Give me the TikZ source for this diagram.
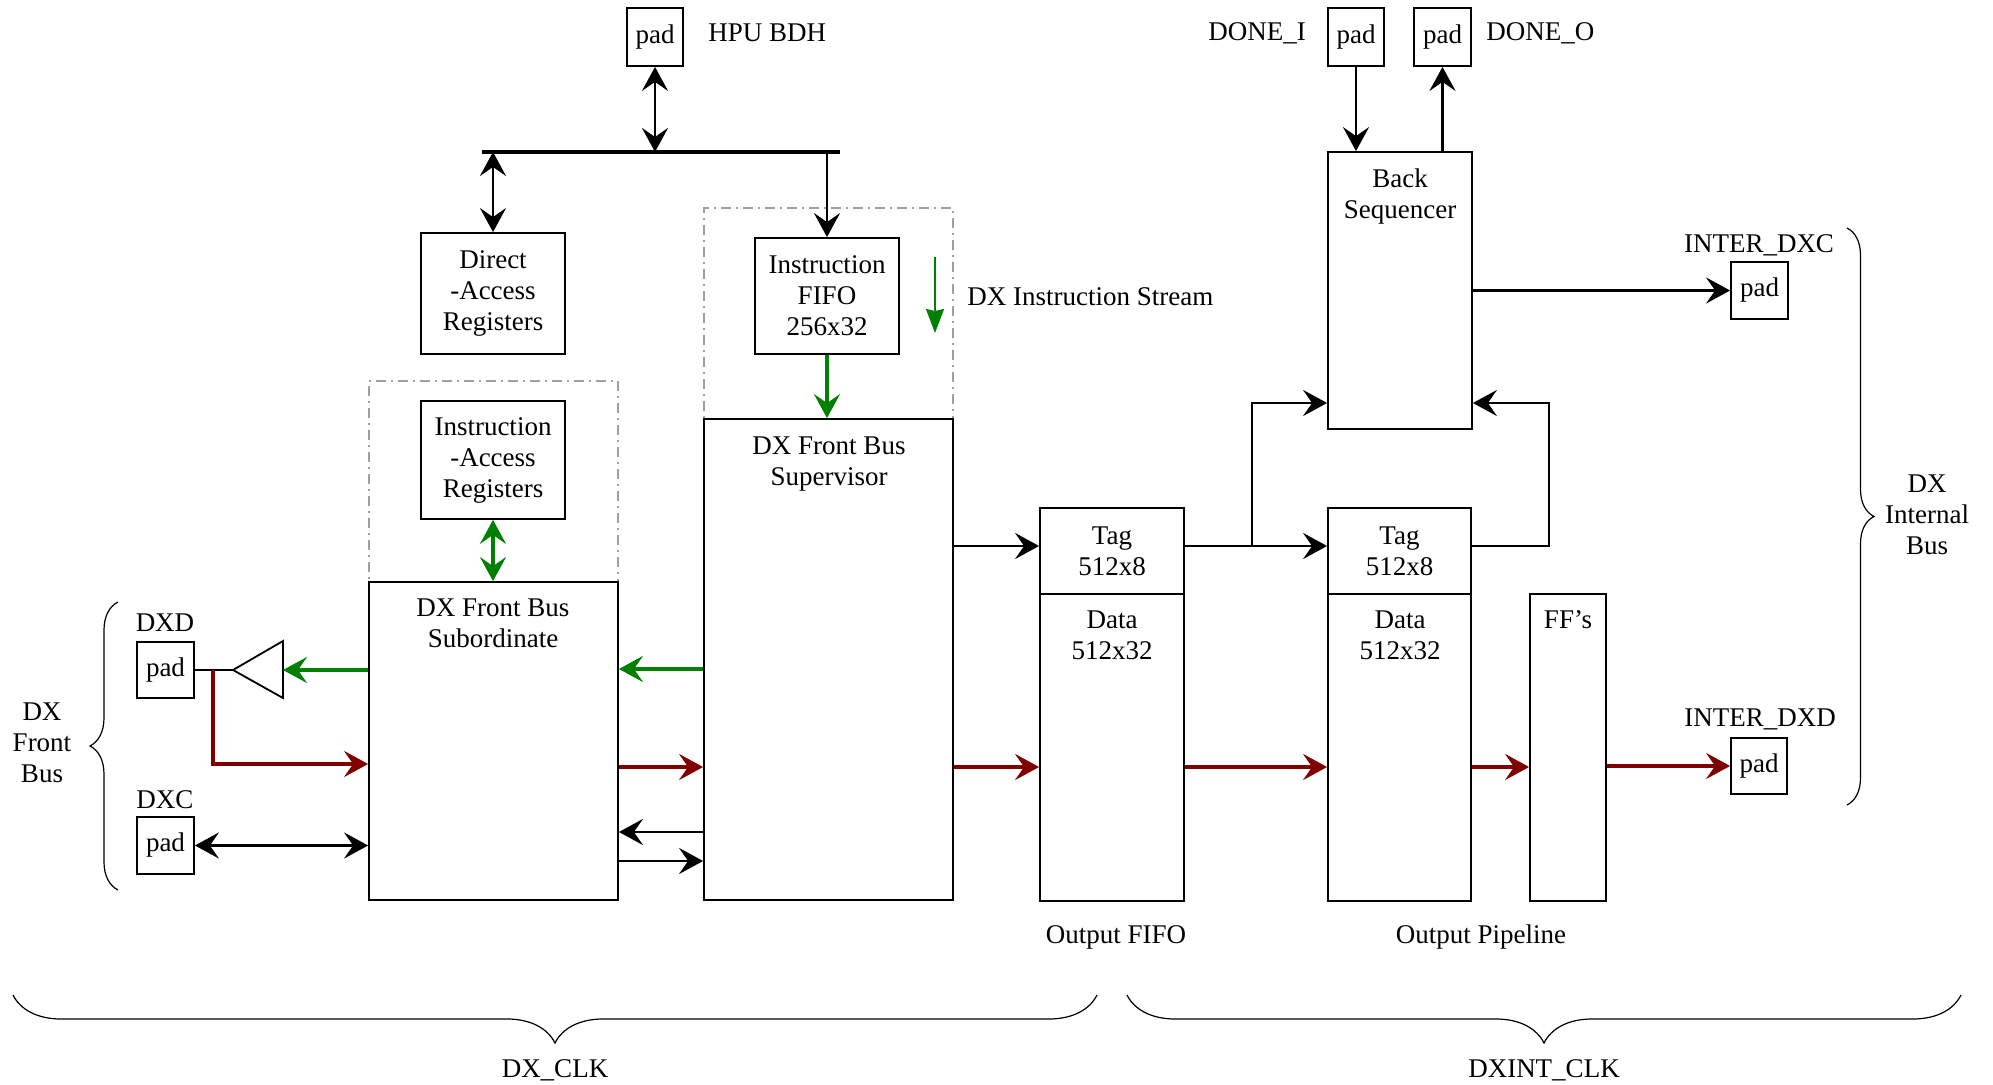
\documentclass[tikz,border=0pt]{standalone}
\usepackage{fontspec}
\setmainfont{Liberation Serif}
\usetikzlibrary{arrows.meta,fit,decorations.pathreplacing,calc}
\definecolor{sigG}{RGB}{0,128,0}
\definecolor{sigR}{RGB}{128,0,0}
\tikzset{
  box/.style={draw, line width=0.9pt, inner sep=0pt},
  dashbox/.style={draw=gray!75, line width=0.55pt, dash pattern=on 5pt off 2.5pt on 1pt off 2.5pt, inner sep=0pt},
  tip/.tip={Stealth[length=12pt,width=13pt,inset=4.5pt]},
  arr/.style={line width=1.35pt, -tip},
  dblarr/.style={line width=1.35pt, tip-tip},
  garr/.style={arr, line width=1.55pt, draw=sigG, -{Stealth[length=12pt,width=13pt,inset=4.5pt,sigG]}},
  gdbl/.style={dblarr, line width=1.55pt, draw=sigG, {Stealth[length=12pt,width=13pt,inset=4.5pt,sigG]}-{Stealth[length=12pt,width=13pt,inset=4.5pt,sigG]}},
  rarr/.style={arr, line width=1.6pt, draw=sigR, -{Stealth[length=12pt,width=13pt,inset=4.5pt,sigR]}},
  brc/.style={line width=0.6pt, decorate},
  txt/.style={align=center, inner sep=0pt},
  ctext/.style={label={[txt]center:{#1}}}
}
\begin{document}
\begin{tikzpicture}[x=0.5pt,y=-0.5pt,font=\fontsize{13.5}{15.5}\selectfont]
\useasboundingbox (0,0) rectangle (1993,1085);

% pads
\node[box, fit={(627,8)(683,66)}, ctext=pad] (hpupad) {};
\node[box, fit={(1328,8)(1384,66)}, ctext=pad] (donei) {};
\node[box, fit={(1414,8)(1471,66)}, ctext=pad] (doneo) {};
\node[box, fit={(1731,262)(1788,319)}, ctext=pad] (idxc) {};
\node[box, fit={(1731,738)(1787,794)}, ctext=pad] (idxd) {};
\node[box, fit={(137,642)(194,698)}, ctext=pad] (dxd) {};
\node[box, fit={(137,817)(194,874)}, ctext=pad] (dxc) {};

% pad labels
\node[txt, anchor=west] (hpulbl) at (708,33) {HPU BDH};
\node[txt] (doneilbl) at (1257,33) {DONE\_I};
\node[txt, anchor=west] (doneolbl) at (1486,33) {DONE\_O};
\node[txt] (idxclbl) at (1759,245) {INTER\_DXC};
\node[txt] (idxdlbl) at (1760,719) {INTER\_DXD};
\node[txt] (dxdlbl) at (165,623) {DXD};
\node[txt] (dxclbl) at (165,800) {DXC};

% dashed groups
\node[dashbox, fit={(369,381)(618,582)}] (dashL) {};
\node[dashbox, fit={(704,208)(953,419)}] (dashR) {};

% blocks
\node[box, fit={(421,233)(565,354)}, ctext={Direct\\-Access\\Registers}] (dar) {};
\node[box, fit={(421,401)(565,519)}, ctext={Instruction\\-Access\\Registers}] (iar) {};
\node[box, fit={(755,238)(899,354)}, ctext={Instruction\\FIFO\\256x32}] (fifo) {};
\node[box, fit={(369,582)(618,900)}] (sub) {};
\node[txt, anchor=north] (subt) at (493,598) {DX Front Bus\\Subordinate};
\node[box, fit={(704,419)(953,900)}] (sup) {};
\node[txt, anchor=north] (supt) at (829,436) {DX Front Bus\\Supervisor};
\node[box, fit={(1040,508)(1184,594)}, ctext={Tag\\512x8}] (otag) {};
\node[box, fit={(1040,594)(1184,901)}] (odata) {};
\node[txt, anchor=north] (odatat) at (1112,610) {Data\\512x32};
\node[box, fit={(1328,152)(1472,429)}] (bseq) {};
\node[txt, anchor=north] (bseqt) at (1400,168) {Back\\Sequencer};
\node[box, fit={(1328,508)(1471,594)}, ctext={Tag\\512x8}] (ptag) {};
\node[box, fit={(1328,594)(1471,901)}] (pdata) {};
\node[txt, anchor=north] (pdatat) at (1400,610) {Data\\512x32};
\node[box, fit={(1530,594)(1606,901)}] (ff) {};
\node[txt, anchor=north] (fft) at (1568,610) {FF's};

% buffer triangle
\coordinate (buftip) at (233,670);
\coordinate (bufbase) at (283,670);
\draw[line width=0.9pt] (buftip) -- (283,641) -- (283,698) -- cycle;

% other labels
\node[txt, anchor=west] (streamlbl) at (967,297) {DX Instruction Stream};
\node[txt] (ofifolbl) at (1116,937) {Output FIFO};
\node[txt] (opipelbl) at (1481,937) {Output Pipeline};
\node[txt] (fblbl) at (42,743) {DX\\Front\\Bus};
\node[txt] (iblbl) at (1927,515) {DX\\Internal\\Bus};
\node[txt] (clk1) at (555,1070) {DX\_CLK};
\node[txt] (clk2) at (1544,1070) {DXINT\_CLK};

% HPU bus
\draw[line width=1.7pt] (482,152) coordinate (busL) -- (840,152) coordinate (busR);
\draw[dblarr] (hpupad.south) -- (hpupad.south |- busL);
\draw[dblarr] (dar.north |- busL) -- (dar.north);
\draw[arr] (fifo.north |- busL) -- (fifo.north);

% instruction path
\draw[garr] (fifo.south) -- (fifo.south |- sup.north);
\coordinate (st1) at (935,257);
\coordinate (st2) at (935,333);
\draw[line width=1pt, draw=sigG, -{Stealth[length=12pt,width=9pt,inset=1pt,sigG]}] (st1) -- (st2);
\draw[gdbl] (iar.south) -- (iar.south |- sub.north);

% front bus pads
\coordinate (dxdj) at (213,670);
\draw[line width=1.35pt] (dxd.east) -- (buftip);
\draw[garr] (sub.west |- bufbase) -- (bufbase);
\draw[rarr] (dxdj) |- (sub.west |- 0,764);
\draw[dblarr] (dxc.east) -- (sub.west |- dxc.east);

% subordinate <-> supervisor
\draw[garr] (sup.west |- 0,669) -- (sub.east |- 0,669);
\draw[rarr] (sub.east |- 0,767) -- (sup.west |- 0,767);
\draw[arr] (sup.west |- 0,832) -- (sub.east |- 0,832);
\draw[arr] (sub.east |- 0,861) -- (sup.west |- 0,861);

% supervisor -> output fifo
\draw[arr] (sup.east |- 0,546) -- (otag.west |- 0,546);
\draw[rarr] (sup.east |- 0,767) -- (odata.west |- 0,767);

% output fifo -> pipeline
\draw[arr] (otag.east |- 0,546) -- (ptag.west |- 0,546);
\coordinate (j1) at (1252,546);
\draw[arr] (j1) |- (bseq.west |- 0,403);
\draw[arr] (ptag.east |- 0,546) -- (1549,546) |- (bseq.east |- 0,403);
\draw[rarr] (odata.east |- 0,767) -- (pdata.west |- 0,767);
\draw[rarr] (pdata.east |- 0,767) -- (ff.west |- 0,767);
\draw[rarr] (ff.east |- idxd.west) -- (idxd.west);

% back sequencer
\draw[arr] (bseq.east |- idxc.west) -- (idxc.west);
\draw[arr] (donei.south) -- (donei.south |- bseq.north);
\draw[arr] (doneo.south |- bseq.north) -- (doneo.south);

% braces
\draw[brc, decoration={brace, amplitude=14pt}] (118,890) -- (118,602);
\draw[brc, decoration={brace, amplitude=13.5pt}] (1847,228) -- (1847,805);
\draw[brc, decoration={brace, amplitude=24pt}] (1097,995) -- (13,995);
\draw[brc, decoration={brace, amplitude=24pt}] (1961,995) -- (1127,995);
\end{tikzpicture}
\end{document}
